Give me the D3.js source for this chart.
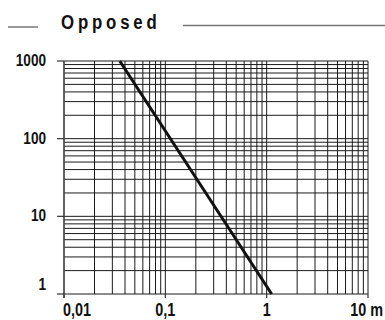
<!DOCTYPE html>
<meta charset="utf-8">
<style>
  body { margin: 0; background: #fff; }
  text { font-family: "Liberation Sans", Arial, sans-serif; font-weight: bold; fill: #111; }
</style>
<body>
  <div id="box1"></div>
</body>
<script src="https://d3js.org/d3.v7.min.js"></script>
<script>

var width = 385, height = 320;
var margin = {top: 61, right: 17, bottom: 26, left: 64};
var squeeze = 0.8; // condensed look

// chart values
var xDomain = [0.01, 10];
var yDomain = [1, 1000];
var xTickValues = [0.01, 0.1, 1, 10];
var xTickLabels = ["0,01", "0,1", "1", "10 m"];
var yTickValues = [1000, 100, 10, 1];
var yTickLabels = ["1000", "100", "10", "1"];
var curveX = [0.0355, 1.12];
var curveY = [1000, 1];
var title = "Opposed";

var x = d3.scaleLog().domain(xDomain).range([margin.left, width - margin.right]);
var y = d3.scaleLog().domain(yDomain).range([height - margin.bottom, margin.top]);

var svg = d3.select('#box1').append("svg")
    .attr("width", width)
    .attr("height", height);

// grid lines, 1..9 per decade
function decadeGrid(dom) {
  var out = [];
  for (var e = Math.round(Math.log10(dom[0])); e < Math.round(Math.log10(dom[1])); e++)
    for (var k = 1; k < 10; k++) out.push(k * Math.pow(10, e));
  out.push(dom[1]);
  return out;
}
var xGrid = decadeGrid(xDomain);
var yGrid = decadeGrid(yDomain);

svg.append("g")
  .selectAll("line")
  .data(xGrid)
  .join("line")
    .attr("x1", d => x(d)).attr("x2", d => x(d))
    .attr("y1", y(yDomain[1])).attr("y2", y(yDomain[0]))
    .attr("stroke", "#1a1a1a")
    .attr("stroke-width", 1);

svg.append("g")
  .selectAll("line")
  .data(yGrid)
  .join("line")
    .attr("y1", d => y(d)).attr("y2", d => y(d))
    .attr("x1", x(xDomain[0])).attr("x2", x(xDomain[1]))
    .attr("stroke", "#1a1a1a")
    .attr("stroke-width", 1);

// left axis a bit heavier
svg.append("line")
    .attr("x1", x(xDomain[0])).attr("x2", x(xDomain[0]))
    .attr("y1", y(yDomain[1])).attr("y2", y(yDomain[0]) + 4)
    .attr("stroke", "#555")
    .attr("stroke-width", 1.5);

// tick marks
svg.append("g")
  .selectAll("line")
  .data(yTickValues)
  .join("line")
    .attr("x1", x(xDomain[0]) - 7).attr("x2", x(xDomain[0]))
    .attr("y1", d => y(d)).attr("y2", d => y(d))
    .attr("stroke", "#333")
    .attr("stroke-width", 1.2);

svg.append("g")
  .selectAll("line")
  .data(xTickValues)
  .join("line")
    .attr("x1", d => x(d)).attr("x2", d => x(d))
    .attr("y1", y(yDomain[0])).attr("y2", y(yDomain[0]) + 4)
    .attr("stroke", "#333")
    .attr("stroke-width", 1.2);

// condensed text helper
function squeezed(g, px, py, anchor, size, str) {
  g.append("text")
    .attr("transform", "translate(" + px + "," + py + ") scale(" + squeeze + ",1)")
    .attr("text-anchor", anchor)
    .style("font-size", size)
    .text(str);
}

// y labels
var yl = svg.append("g");
yTickValues.forEach(function(d, i) {
  var py = i == yTickValues.length - 1 ? y(d) - 4 : y(d) + 5;
  squeezed(yl, x(xDomain[0]) - 18, py, "end", "17px", yTickLabels[i]);
});

// x labels
var xl = svg.append("g");
xTickValues.forEach(function(d, i) {
  var last = i == xTickValues.length - 1;
  var px = i == 0 ? x(d) - 1 : (last ? x(d) + 15 : x(d));
  var anchor = i == 0 ? "start" : (last ? "end" : "middle");
  squeezed(xl, px, height - 4, anchor, "18px", xTickLabels[i]);
});

// the curve
var curve = curveX.map((d, i) => [d, curveY[i]]);
svg.append("path")
    .datum(curve)
    .attr("fill", "none")
    .attr("stroke", "#111")
    .attr("stroke-width", 3)
    .attr("d", d3.line().x(d => x(d[0])).y(d => y(d[1])));

// title with rules
svg.append("line")
    .attr("x1", 8).attr("x2", 38).attr("y1", 27).attr("y2", 27)
    .attr("stroke", "#777").attr("stroke-width", 1.5);
svg.append("line")
    .attr("x1", 183).attr("x2", width).attr("y1", 25.5).attr("y2", 25.5)
    .attr("stroke", "#777").attr("stroke-width", 1.5);
svg.append("text")
    .attr("transform", "translate(61,29) scale(" + squeeze + ",1)")
    .style("font-size", "21px")
    .style("letter-spacing", "4.8px")
    .text(title);

</script>
